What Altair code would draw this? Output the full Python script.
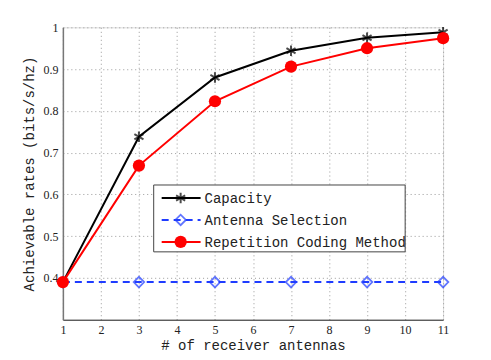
import altair as alt
import pandas as pd

antennas = [1, 3, 5, 7, 9, 11]
capacity = [0.39, 0.738, 0.880, 0.944, 0.975, 0.988]
antenna_sel = [0.39, 0.39, 0.39, 0.39, 0.39, 0.39]
repetition = [0.39, 0.669, 0.823, 0.906, 0.950, 0.974]

series = ["Capacity", "Antenna Selection", "Repetition Coding Method"]
y_ticks = [0.4, 0.5, 0.6, 0.7, 0.8, 0.9, 1.0]
x_ticks = list(range(1, 12))

df = pd.DataFrame({
    "x": antennas * 3,
    "y": capacity + antenna_sel + repetition,
    "s": [series[0]] * 6 + [series[1]] * 6 + [series[2]] * 6,
})

W, H = 381, 293
xs = alt.Scale(domain=[1, 11], nice=False)
ys = alt.Scale(domain=[0.3, 1.0], nice=False, zero=False)

SERIF = "'Liberation Serif', 'Times New Roman', serif"
MONO = "'Liberation Mono', 'Courier New', monospace"

xaxis = alt.Axis(values=x_ticks, title="# of receiver antennas", format="d",
                 grid=True, gridDash=[1, 3], gridColor="#999", ticks=False,
                 labelFont=SERIF, labelFontSize=12, labelColor="#222",
                 labelPadding=5, titleFont=MONO, titleFontSize=14,
                 titleFontWeight="normal", titleColor="#222", titlePadding=3,
                 domainColor="#222", labelFlush=False, labelOverlap=False)
yaxis = alt.Axis(values=y_ticks, title="Achievable rates (bits/s/hz)", format="~g",
                 grid=True, gridDash=[1, 3], gridColor="#999", ticks=False,
                 labelFont=SERIF, labelFontSize=12, labelColor="#222",
                 labelPadding=5, titleFont=MONO, titleFontSize=14,
                 titleFontWeight="normal", titleColor="#222", titlePadding=6,
                 domainColor="#777", domainWidth=1.5, labelOverlap=False)

X = alt.X("x:Q", scale=xs, axis=xaxis)
Y = alt.Y("y:Q", scale=ys, axis=yaxis)

base = alt.Chart(df)

def sub(name):
    return base.transform_filter(alt.datum.s == name)

cap_line = sub(series[0]).mark_line(color="black", strokeWidth=2).encode(x=X, y=Y)
sel_line = sub(series[1]).mark_line(color="#1f3cff", strokeWidth=2, strokeDash=[7, 5]).encode(x=X, y=Y)
rep_line = sub(series[2]).mark_line(color="red", strokeWidth=2).encode(x=X, y=Y)

ast = "M0,-1L0,1M-0.87,-0.5L0.87,0.5M-0.87,0.5L0.87,-0.5"
cap_pts = sub(series[0]).mark_point(shape=ast, filled=False, color="black", strokeWidth=2, size=110).encode(x=X, y=Y)
sel_pts = sub(series[1]).mark_point(shape="diamond", filled=False, color="#1f3cff", strokeWidth=1.8, size=110).encode(x=X, y=Y)
rep_pts = sub(series[2]).mark_point(shape="circle", filled=True, color="red", opacity=1, size=150).encode(x=X, y=Y)

# legend box (pixel positions relative to plot area)
lx0, ly0 = 154 - 63, 185 - 27
lx1, ly1 = 406 - 63, 252 - 27
legend_box = alt.Chart(pd.DataFrame({"a": [0]})).mark_rect(
    fill="white", stroke="#444", strokeWidth=1).encode(
    x=alt.value(lx0), x2=alt.value(lx1), y=alt.value(ly0), y2=alt.value(ly1))

rows = [ly0 + 13, ly0 + 35, ly0 + 57]
colors = ["black", "#1f3cff", "red"]
leg_layers = [legend_box]
for i, name in enumerate(series):
    d = pd.DataFrame({"s": [name]})
    rule_kwargs = dict(color=colors[i], strokeWidth=2)
    if i == 1:
        rule_kwargs["strokeDash"] = [7, 5]
    leg_layers.append(alt.Chart(d).mark_rule(**rule_kwargs).encode(
        x=alt.value(lx0 + 8), x2=alt.value(lx0 + 47), y=alt.value(rows[i])))
    if i == 0:
        pm = alt.Chart(d).mark_point(shape=ast, filled=False, color="black", strokeWidth=2, size=110)
    elif i == 1:
        pm = alt.Chart(d).mark_point(shape="diamond", filled=False, color="#1f3cff", strokeWidth=1.8, size=110)
    else:
        pm = alt.Chart(d).mark_point(shape="circle", filled=True, color="red", opacity=1, size=150)
    leg_layers.append(pm.encode(x=alt.value(lx0 + 27), y=alt.value(rows[i])))
    leg_layers.append(alt.Chart(d).mark_text(
        align="left", baseline="middle", font=MONO, fontSize=14, color="#222").encode(
        x=alt.value(lx0 + 51), y=alt.value(rows[i] + 1), text="s:N"))

chart = alt.layer(
    cap_line, sel_line, rep_line, cap_pts, sel_pts, rep_pts, *leg_layers
).properties(
    width=W, height=H,
    autosize=alt.AutoSizeParams(type="none"),
    padding={"left": 55, "top": 19, "right": 40, "bottom": 40},
).configure_view(stroke="#555", strokeWidth=1.5).configure(background="white")

chart.save("out.html", embed_options={"renderer": "svg", "actions": False})
